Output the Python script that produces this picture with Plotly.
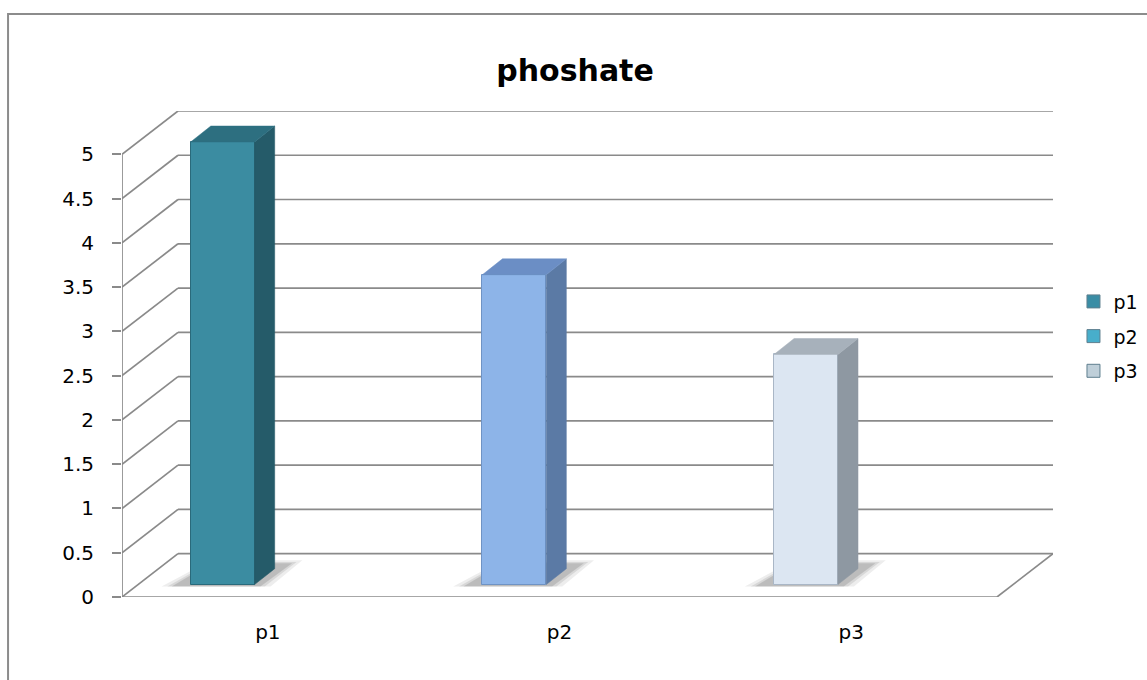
import plotly.graph_objects as go

# ---- data ----
categories = ["p1", "p2", "p3"]
values = [5, 3.5, 2.6]
y_ticks = [0, 0.5, 1, 1.5, 2, 2.5, 3, 3.5, 4, 4.5, 5]
y_tick_labels = ["0", "0.5", "1", "1.5", "2", "2.5", "3", "3.5", "4", "4.5", "5"]
title_text = "phoshate"

# ---- styles ----
front_colors = ["#3B8CA1", "#8DB4E8", "#DCE6F2"]
side_colors = ["#255B69", "#5B7AA5", "#8E98A2"]
top_colors = ["#2D6F80", "#6B8EC5", "#A7B1BB"]
legend_colors = ["#3A8DA5", "#48AECB", "#BFCFD9"]
edge_colors = ["#2A6A7B", "#6F93C4", "#A9B6C6"]
GRID = "#8A8A8A"
FONT = "DejaVu Sans"

DX, DY = 0.192, 0.49          # depth of the wall (x in category units, y in value units)
BASE = 0.14                   # bar front face elevation due to depth position
SHIFT = 0.345                 # bar front face centre within its category
BW = 0.219                    # bar width
SX, SY = 0.069, 0.18          # bar depth
N = len(categories)
YMAX = max(y_ticks)

fig = go.Figure()
shapes = []

def seg(x0, y0, x1, y1, w=1.7):
    shapes.append(dict(type="line", xref="x", yref="y", x0=x0, y0=y0, x1=x1, y1=y1,
                       line=dict(color=GRID, width=w), layer="below"))

# back wall gridlines + diagonals
for v in y_ticks:
    seg(0, v, DX, v + DY)
    seg(DX, v + DY, N + DX, v + DY)
# floor
seg(0, 0, N, 0)
seg(N, 0, N + DX, DY)
# front left axis
seg(0, 0, 0, YMAX)
# category tick marks
for i in range(N + 1):
    shapes.append(dict(type="line", xref="x", yref="y", xsizemode="scaled",
                       ysizemode="pixel", yanchor=0, x0=i, x1=i, y0=0, y1=-9,
                       line=dict(color=GRID, width=1.7), layer="below"))

# bar shadows on the floor
for i, v in enumerate(values):
    xl = i + SHIFT - BW / 2
    xr = i + SHIFT + BW / 2
    for grow, alpha in [(0.035, 0.07), (0.015, 0.09), (0.0, 0.12)]:
        pts = [(xl - 0.065 - grow, BASE - 0.02),
               (xr + 0.02 + grow, BASE - 0.02),
               (xr + SX + 0.06 + grow, BASE + SY + 0.06 + grow),
               (xl + SX, BASE + SY + 0.06 + grow)]
        path = "M " + " L ".join(f"{x},{y}" for x, y in pts) + " Z"
        shapes.append(dict(type="path", xref="x", yref="y", path=path,
                           fillcolor=f"rgba(0,0,0,{alpha})", line=dict(width=0),
                           layer="below"))

# chart border
shapes.append(dict(type="rect", xref="paper", yref="paper",
                   x0=-0.1224, x1=1.2, y0=-0.2, y1=1.1996,
                   line=dict(color="#8C8C8C", width=2), layer="below"))

# front faces
fig.add_trace(go.Bar(
    x=[i + SHIFT for i in range(N)], y=values, base=BASE, width=BW,
    marker=dict(color=front_colors, line=dict(color=edge_colors, width=1)),
    showlegend=False, hoverinfo="skip"))

# side and top faces
for i, v in enumerate(values):
    xl = i + SHIFT - BW / 2
    xr = i + SHIFT + BW / 2
    b = BASE
    t = BASE + v
    fig.add_trace(go.Scatter(
        x=[xr, xr + SX, xr + SX, xr, xr], y=[b, b + SY, t + SY, t, b],
        fill="toself", fillcolor=side_colors[i], mode="lines",
        line=dict(color=side_colors[i], width=0.5), showlegend=False, hoverinfo="skip"))
    fig.add_trace(go.Scatter(
        x=[xl, xr, xr + SX, xl + SX, xl], y=[t, t, t + SY, t + SY, t],
        fill="toself", fillcolor=top_colors[i], mode="lines",
        line=dict(color=top_colors[i], width=0.5), showlegend=False, hoverinfo="skip"))

# legend entries
for i, c in enumerate(categories):
    fig.add_trace(go.Scatter(
        x=[None], y=[None], mode="markers", name=c, legendgroup=c,
        marker=dict(symbol="square", size=13, color=legend_colors[i],
                    line=dict(color="#5F7F8F", width=1))))

fig.update_layout(
    width=1147, height=680,
    margin=dict(l=122, r=94, t=111, b=83, autoexpand=False),
    paper_bgcolor="white", plot_bgcolor="white",
    font=dict(family=FONT, size=18, color="black"),
    title=dict(text=f"<b>{title_text}</b>", x=0.4866, xref="paper", xanchor="center",
               y=0.897, yref="container", yanchor="middle",
               font=dict(family=FONT, size=30, color="black")),
    shapes=shapes,
    showlegend=True,
    legend=dict(x=1.022, xanchor="left", y=0.647, yanchor="top",
                traceorder="grouped", tracegroupgap=7,
                font=dict(family=FONT, size=19), itemwidth=30,
                bgcolor="rgba(0,0,0,0)"),
    xaxis=dict(range=[0, N + DX], showgrid=False, zeroline=False, showline=False,
               tickvals=[i + 0.5 for i in range(N)], ticktext=categories, ticks="",
               ticklabelstandoff=21, tickfont=dict(size=20), fixedrange=True),
    yaxis=dict(range=[0, YMAX + DY], showgrid=False, zeroline=False, showline=False,
               tickvals=y_ticks, ticktext=y_tick_labels, ticks="outside", ticklen=9,
               tickcolor=GRID, tickwidth=1.7, ticklabelstandoff=14,
               tickfont=dict(size=20), fixedrange=True),
    bargap=0,
)

fig.write_html("out.html")
